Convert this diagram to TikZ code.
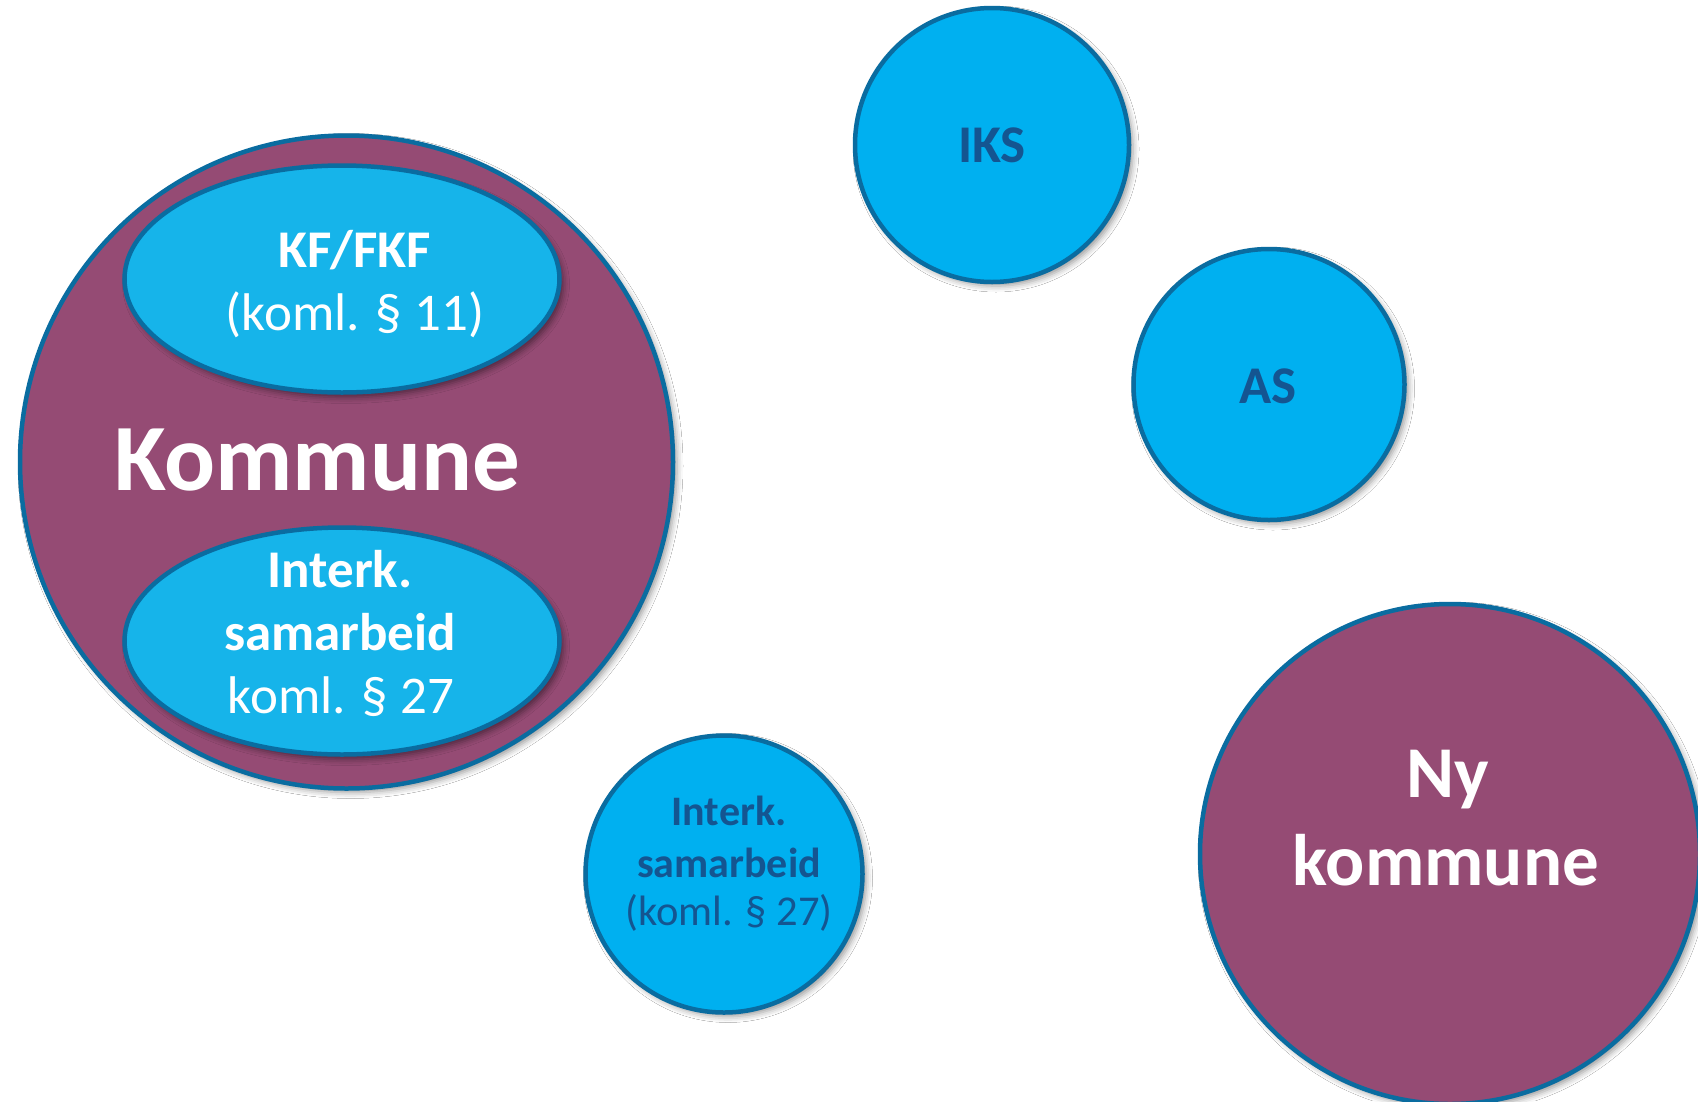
\documentclass[tikz,border=0pt]{standalone}
\usepackage{fontspec}
\setmainfont{Carlito}
\usetikzlibrary{shapes.geometric,shadows.blur}
\definecolor{plum}{RGB}{149,75,116}
\definecolor{skyfill}{RGB}{0,176,240}
\definecolor{ovalfill}{RGB}{22,180,234}
\definecolor{rimblue}{RGB}{10,108,160}
\definecolor{navytext}{RGB}{20,85,145}
\begin{document}
\begin{tikzpicture}[x=1pt,y=-1pt,
  rim/.style={draw=rimblue, line width=4.5pt, inner sep=0pt},
  softshadow/.style={blur shadow={shadow xshift=4pt, shadow yshift=-4pt, shadow blur radius=6pt, shadow opacity=40}},
  plumcirc/.style={rim, circle, fill=plum, softshadow},
  skycirc/.style={rim, circle, fill=skyfill, softshadow},
  oval/.style={rim, ellipse, fill=ovalfill, minimum width=435pt, minimum height=227pt,
     blur shadow={shadow xshift=4pt, shadow yshift=-5pt, shadow blur radius=6pt, shadow opacity=45}},
  lbl/.style={inner sep=0pt, anchor=base},
  wb/.style={lbl, text=white, font=\fontsize{53pt}{63pt}\selectfont\bfseries},
  wr/.style={lbl, text=white, font=\fontsize{53pt}{63pt}\selectfont},
  nb/.style={lbl, text=navytext, font=\fontsize{53pt}{63pt}\selectfont\bfseries},
  sb/.style={lbl, text=navytext, font=\fontsize{42pt}{50pt}\selectfont\bfseries},
  sr/.style={lbl, text=navytext, font=\fontsize{42.5pt}{50pt}\selectfont},
  big/.style={lbl, text=white, font=\fontsize{95pt}{114pt}\selectfont\bfseries},
  ny/.style={lbl, text=white, font=\fontsize{73pt}{88pt}\selectfont\bfseries}
]
\clip (0,0) rectangle (1698,1101);
\fill[white] (0,0) rectangle (1698,1101);

% Kommune with inner ellipses
\node[plumcirc, minimum size=653pt] (kommune) at (346.5,462) {};
\node[oval] (kf) at (342,279) {};
\node[oval] (ik) at (342,641) {};
\node[wb] (kf1) at (355,267) {KF/FKF};
\node[wr] (kf2) at (355,330) {(koml. § 11)};
\node[big] (kommunetxt) at (317,490) {Kommune};
\node[wb] (ik1) at (340,587) {Interk.};
\node[wb] (ik2) at (340,650) {samarbeid};
\node[wr] (ik3) at (341,713) {koml. § 27};

% IKS and AS
\node[skycirc, minimum size=274pt] (iks) at (992,145) {};
\node[nb] (ikstxt) at (992,162) {IKS};
\node[skycirc, minimum size=271pt] (as) at (1269,384.5) {};
\node[nb] (astxt) at (1268,403) {AS};

% small Interk. circle
\node[skycirc, minimum size=277pt] (sm) at (724,874) {};
\node[sb] (sm1) at (729,825) {Interk.};
\node[sb] (sm2) at (729,877) {samarbeid};
\node[sr] (sm3) at (729,925) {(koml. § 27)};

% Ny kommune
\node[plumcirc, minimum size=500pt] (ny) at (1450,854) {};
\node[ny] (ny1) at (1448,797) {Ny};
\node[ny] (ny2) at (1446,885) {kommune};
\end{tikzpicture}
\end{document}
